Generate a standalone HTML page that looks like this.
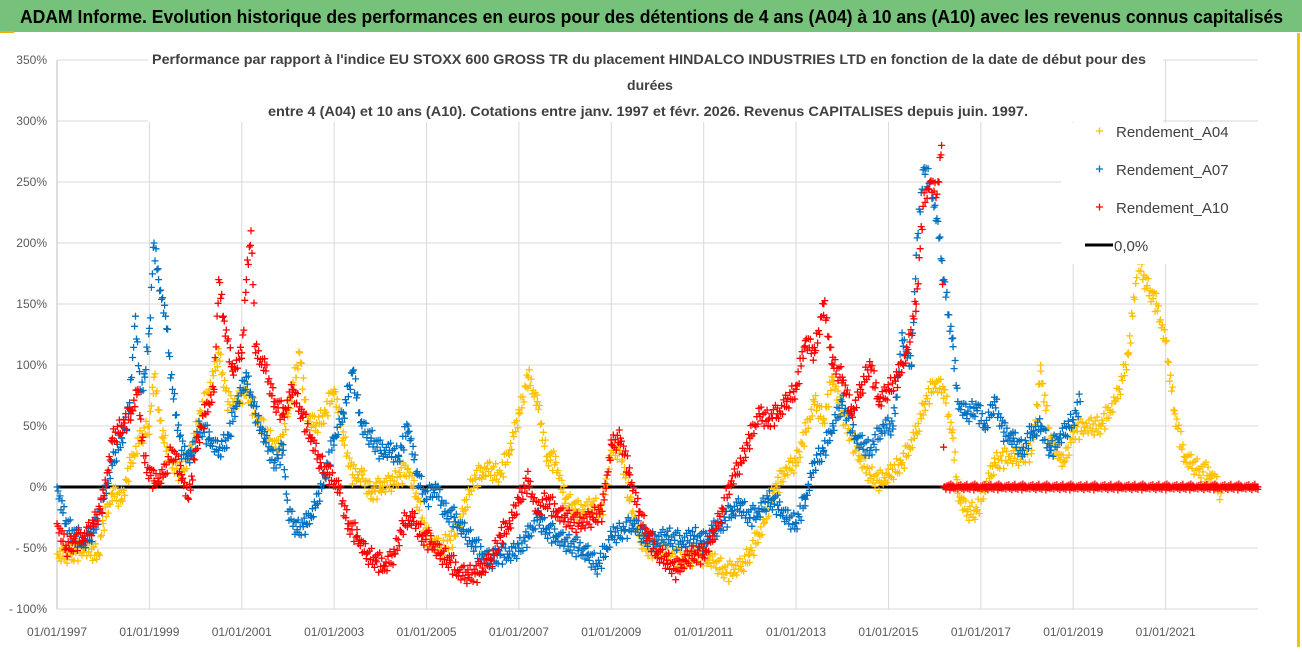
<!DOCTYPE html>
<html><head><meta charset="utf-8"><style>
html,body{margin:0;padding:0;background:#fff;}
body{width:1302px;height:647px;overflow:hidden;font-family:"Liberation Sans",sans-serif;}
</style></head><body>
<svg id="chart" width="1302" height="647" xmlns="http://www.w3.org/2000/svg" font-family="Liberation Sans, sans-serif">
  <rect x="0" y="0" width="1302" height="647" fill="#fff"/>
  <rect x="0" y="0" width="1302" height="32" fill="#77c27a"/>
  <rect x="0" y="31" width="14" height="2" fill="#f0b000"/>
  <rect x="1297" y="33" width="3" height="614" fill="#f5c400"/>
  <text x="20" y="23" font-size="18" font-weight="bold" fill="#000" textLength="1263" lengthAdjust="spacingAndGlyphs">ADAM Informe. Evolution historique des performances en euros pour des détentions de 4 ans (A04) à 10 ans (A10) avec les revenus connus capitalisés</text>
  <g id="grid"></g>
  <g id="axes"></g>
  <line x1="57" y1="487" x2="1258" y2="487" stroke="#000" stroke-width="3"/>
  <g id="series"></g>
  <rect x="148" y="42" width="1015" height="80" fill="#fff"/>
  <text x="152" y="64" font-size="14" font-weight="bold" fill="#404040" textLength="994" lengthAdjust="spacingAndGlyphs">Performance par rapport à l'indice EU STOXX 600 GROSS TR  du placement HINDALCO INDUSTRIES LTD en fonction de la date de début pour des</text>
  <text x="650" y="90" font-size="14" font-weight="bold" fill="#404040" text-anchor="middle">durées</text>
  <text x="268" y="116" font-size="14" font-weight="bold" fill="#404040" textLength="760" lengthAdjust="spacingAndGlyphs">entre 4 (A04) et 10 ans (A10).  Cotations entre janv. 1997 et févr. 2026. Revenus CAPITALISES depuis juin. 1997.</text>
  <g>
    <rect x="1061" y="123" width="197" height="141" fill="#fff"/>
    <g>
      <path d="M1096 131h7M1099.5 127.5v7" stroke="#ffc000" stroke-width="1.3"/>
      <text x="1116" y="137" font-size="15" fill="#404040">Rendement_A04</text>
    </g>
    <g>
      <path d="M1096 169h7M1099.5 165.5v7" stroke="#0070c0" stroke-width="1.3"/>
      <text x="1116" y="175" font-size="15" fill="#404040">Rendement_A07</text>
    </g>
    <g>
      <path d="M1096 207h7M1099.5 203.5v7" stroke="#ff0000" stroke-width="1.3"/>
      <text x="1116" y="213" font-size="15" fill="#404040">Rendement_A10</text>
    </g>
    <g>
      <line x1="1085" y1="245" x2="1113" y2="245" stroke="#000" stroke-width="3"/>
      <text x="1114" y="251" font-size="15" fill="#404040">0,0%</text>
    </g>
  </g>
</svg>
<script>
const yTicks = [350,300,250,200,150,100,50,0,-50,-100];
const yTickLabels = ["350%","300%","250%","200%","150%","100%","50%","0%","- 50%","- 100%"];
const xTicks = [1997,1999,2001,2003,2005,2007,2009,2011,2013,2015,2017,2019,2021];
const xTickLabels = ["01/01/1997","01/01/1999","01/01/2001","01/01/2003","01/01/2005","01/01/2007","01/01/2009","01/01/2011","01/01/2013","01/01/2015","01/01/2017","01/01/2019","01/01/2021"];

const a04Dates = [1997.0,1997.3,1997.6,1997.9,1998.0,1998.2,1998.4,1998.6,1998.8,1999.0,1999.1,1999.3,1999.5,1999.7,1999.9,2000.1,2000.3,2000.5,2000.7,2000.9,2001.1,2001.3,2001.6,2001.8,2002.0,2002.25,2002.4,2002.6,2002.8,2003.0,2003.2,2003.4,2003.6,2003.8,2004.0,2004.3,2004.6,2004.8,2005.0,2005.3,2005.6,2005.8,2006.0,2006.3,2006.6,2006.8,2007.0,2007.2,2007.4,2007.6,2007.8,2008.0,2008.3,2008.6,2008.8,2009.0,2009.2,2009.4,2009.6,2009.8,2010.0,2010.3,2010.6,2010.9,2011.2,2011.5,2011.8,2012.0,2012.3,2012.5,2012.8,2013.0,2013.2,2013.4,2013.6,2013.8,2014.0,2014.3,2014.6,2014.8,2015.0,2015.3,2015.6,2015.8,2016.0,2016.2,2016.4,2016.5,2016.7,2016.9,2017.1,2017.3,2017.6,2017.9,2018.1,2018.3,2018.5,2018.8,2019.0,2019.3,2019.6,2019.9,2020.0,2020.2,2020.4,2020.6,2020.8,2021.0,2021.2,2021.4,2021.7,2022.0,2022.2];
const a04Values = [-55,-55,-50,-55,-30,-5,-10,20,40,50,90,40,20,10,30,60,80,110,70,70,80,60,40,30,60,110,60,50,60,80,40,10,10,-5,0,5,15,-10,-40,-50,-40,-20,5,15,10,30,60,90,70,25,20,-10,-20,-15,-20,30,30,-10,-40,-50,-50,-55,-60,-55,-60,-70,-65,-55,-30,-5,15,20,45,70,55,90,60,30,10,5,10,20,45,70,85,80,40,-5,-20,-20,0,20,25,25,30,95,40,20,45,50,50,70,80,110,185,165,150,120,60,25,15,10,-5];

const a07Dates = [1997.0,1997.2,1997.4,1997.6,1997.8,1998.0,1998.2,1998.4,1998.55,1998.7,1998.8,1998.9,1999.0,1999.1,1999.2,1999.35,1999.5,1999.7,1999.9,2000.1,2000.3,2000.5,2000.7,2000.9,2001.1,2001.3,2001.5,2001.7,2001.9,2002.0,2002.2,2002.4,2002.6,2002.8,2003.0,2003.2,2003.4,2003.6,2003.8,2004.0,2004.2,2004.4,2004.6,2004.8,2005.0,2005.2,2005.4,2005.6,2005.8,2006.0,2006.2,2006.4,2006.6,2006.8,2007.0,2007.2,2007.4,2007.6,2007.8,2008.0,2008.3,2008.5,2008.7,2008.9,2009.0,2009.3,2009.5,2009.7,2009.9,2010.2,2010.5,2010.8,2011.0,2011.2,2011.4,2011.6,2011.8,2012.0,2012.2,2012.4,2012.6,2012.8,2013.0,2013.2,2013.4,2013.6,2013.8,2014.0,2014.3,2014.6,2014.9,2015.1,2015.3,2015.5,2015.6,2015.75,2015.9,2016.05,2016.2,2016.4,2016.5,2016.7,2016.9,2017.1,2017.3,2017.5,2017.7,2017.9,2018.1,2018.3,2018.5,2018.7,2018.9,2019.0,2019.15];
const a07Values = [0,-30,-40,-45,-35,-10,20,40,60,140,80,90,130,200,170,140,80,30,25,50,40,30,40,70,90,60,40,20,30,-20,-35,-30,-15,10,40,60,95,50,40,30,30,25,50,10,-10,0,-20,-25,-35,-45,-55,-60,-55,-55,-50,-40,-25,-35,-40,-45,-50,-55,-65,-50,-40,-35,-30,-40,-45,-40,-45,-40,-45,-35,-30,-20,-15,-25,-20,-10,-15,-25,-30,-10,20,30,50,70,40,30,50,50,120,100,190,260,250,220,170,115,70,60,65,50,70,45,40,30,45,50,30,40,50,55,70];

const a10Dates = [1997.0,1997.2,1997.4,1997.6,1997.8,1998.0,1998.2,1998.4,1998.6,1998.75,1998.9,1999.1,1999.3,1999.5,1999.7,1999.85,2000.0,2000.2,2000.4,2000.5,2000.6,2000.8,2001.0,2001.1,2001.2,2001.3,2001.5,2001.7,2001.9,2002.1,2002.3,2002.5,2002.7,2002.9,2003.1,2003.3,2003.5,2003.7,2003.9,2004.1,2004.3,2004.5,2004.7,2004.9,2005.1,2005.3,2005.5,2005.7,2005.9,2006.1,2006.4,2006.6,2006.8,2007.0,2007.2,2007.4,2007.6,2007.8,2008.0,2008.3,2008.6,2008.8,2009.0,2009.2,2009.4,2009.6,2009.8,2010.0,2010.2,2010.4,2010.6,2010.8,2011.0,2011.2,2011.4,2011.6,2011.8,2012.0,2012.2,2012.4,2012.6,2012.8,2013.0,2013.2,2013.4,2013.6,2013.8,2014.0,2014.2,2014.4,2014.6,2014.8,2015.0,2015.2,2015.4,2015.6,2015.75,2015.9,2016.05,2016.15,2016.2,2023.0];
const a10Values = [-30,-50,-45,-40,-30,-10,40,50,60,80,20,5,10,30,10,-10,30,60,80,170,140,95,110,170,210,110,100,70,60,80,60,40,20,10,0,-30,-40,-55,-60,-65,-55,-30,-25,-40,-45,-55,-60,-70,-72,-70,-60,-40,-30,-10,5,-20,-10,-20,-25,-30,-25,-20,35,40,10,-20,-40,-55,-60,-68,-60,-55,-55,-40,-20,5,20,40,60,55,60,70,80,120,110,150,100,90,60,80,100,70,80,90,110,150,230,250,240,280,0,0];

const X0 = 57, X1 = 1258, Y0 = 487, PX_PER_PCT = 61/50;
function xScale(yr){ return X0 + (yr - 1997) * (X1 - X0) / 26; }
function yScale(v){ return Y0 - v * PX_PER_PCT; }
const NS = "http://www.w3.org/2000/svg";

const grid = document.getElementById('grid');
yTicks.forEach(function(t){
  const l = document.createElementNS(NS,'line');
  
  
  l.setAttribute('x1',X0); l.setAttribute('x2',X1);
  l.setAttribute('y1',yScale(t)); l.setAttribute('y2',yScale(t));
  l.setAttribute('stroke','#d9d9d9'); l.setAttribute('stroke-width','1');
  grid.appendChild(l);
});
xTicks.forEach(function(t){
  const l = document.createElementNS(NS,'line');
  
  
  l.setAttribute('x1',xScale(t)); l.setAttribute('x2',xScale(t));
  l.setAttribute('y1',yScale(350)); l.setAttribute('y2',yScale(-100));
  l.setAttribute('stroke','#d9d9d9'); l.setAttribute('stroke-width','1');
  grid.appendChild(l);
});
const axes = document.getElementById('axes');
const ax = document.createElementNS(NS,'line');


ax.setAttribute('x1',X0); ax.setAttribute('x2',X0);
ax.setAttribute('y1',yScale(350)); ax.setAttribute('y2',yScale(-100));
ax.setAttribute('stroke','#bfbfbf');
axes.appendChild(ax);
yTicks.forEach(function(t,i){
  const tx = document.createElementNS(NS,'text');
  
  
  tx.setAttribute('x',47); tx.setAttribute('y',yScale(t)+4);
  tx.setAttribute('text-anchor','end'); tx.setAttribute('font-size','12');
  tx.setAttribute('fill','#595959');
  tx.textContent = yTickLabels[i];
  axes.appendChild(tx);
});
xTicks.forEach(function(t,i){
  const tx = document.createElementNS(NS,'text');
  
  
  tx.setAttribute('x',xScale(t)); tx.setAttribute('y',636);
  tx.setAttribute('text-anchor','middle'); tx.setAttribute('font-size','12');
  tx.setAttribute('fill','#595959');
  tx.textContent = xTickLabels[i];
  axes.appendChild(tx);
});

const jit = [0,4,-3,7,-6,2,-8,5,-2,9,-5,3,-9,6,-1,8,-4,1,-7,10,-10,3,-6,6];
function drawSeries(dates, values, color, name){
  let d = '';
  let k = 0;
  for (let i = 0; i < dates.length; i++){
    const x = xScale(dates[i]), y = yScale(values[i]);
    d += 'M'+(x-3.5).toFixed(1)+' '+y.toFixed(1)+'h7M'+x.toFixed(1)+' '+(y-3.5).toFixed(1)+'v7';
    if (i < dates.length-1){
      const x2 = xScale(dates[i+1]), y2 = yScale(values[i+1]);
      const amp = (values[i] === 0 && values[i+1] === 0) ? 0.3 : 1.0;
      for (let px = x + 1.0; px < x2; px += 1.0){
        const f = (px - x) / (x2 - x);
        const yy = y + (y2 - y) * f + jit[k % jit.length] * amp;
        k++;
        d += 'M'+(px-3.5).toFixed(1)+' '+yy.toFixed(1)+'h7M'+px.toFixed(1)+' '+(yy-3.5).toFixed(1)+'v7';
      }
    }
  }
  const p = document.createElementNS(NS,'path');
  
  
  p.setAttribute('d', d);
  p.setAttribute('stroke', color);
  p.setAttribute('stroke-width','1.3');
  p.setAttribute('fill','none');
  document.getElementById('series').appendChild(p);
}
drawSeries(a04Dates, a04Values, '#ffc000', 'series-a04');
drawSeries(a07Dates, a07Values, '#0070c0', 'series-a07');
drawSeries(a10Dates, a10Values, '#ff0000', 'series-a10');
</script>
</body></html>
